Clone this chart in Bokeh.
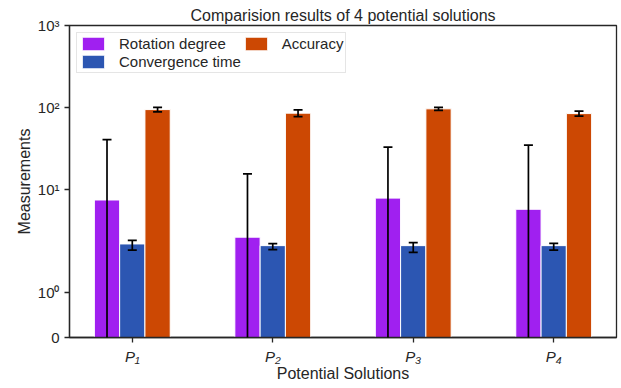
import numpy as np
from bokeh.plotting import figure
from bokeh.models import ColumnDataSource, Whisker, TeeHead, FixedTicker, Range1d, Legend, LegendItem
from bokeh.embed import file_html
from bokeh.resources import INLINE

# ---- data ----
solutions = ["P\u2081", "P\u2082", "P\u2083", "P\u2084"]
rotation = [7.4, 2.6, 7.8, 5.7]
rotation_err = [33.0, 12.8, 25.0, 29.0]
convergence = [2.15, 2.05, 2.05, 2.05]
convergence_err = [0.23, 0.12, 0.18, 0.13]
accuracy = [94.0, 85.0, 96.0, 84.0]
accuracy_err = [6.0, 8.0, 4.0, 6.0]
series_names = ["Rotation degree", "Convergence time", "Accuracy"]
y_tick_values = [0, 1, 10, 100, 1000]
y_tick_labels = ["0", "10\u2070", "10\u00b9", "10\u00b2", "10\u00b3"]

# symlog transform (matplotlib default linthresh=2, linscale=1)
LINTHRESH = 2.0
LINSCALE_ADJ = 1.0 / (1.0 - 1.0 / 10.0)

def symlog(v):
    a = np.asarray(v, dtype=float)
    aa = np.abs(a)
    with np.errstate(divide="ignore", invalid="ignore"):
        out = np.sign(a) * LINTHRESH * (LINSCALE_ADJ + np.log10(aa / LINTHRESH))
    inside = aa <= LINTHRESH
    out[inside] = a[inside] * LINSCALE_ADJ
    return out

FONT = "Liberation Sans"
TXT = "#262626"
colors = ["#A020F0", "#2C56B2", "#CC4803"]
width = 0.18
offsets = [-0.18, 0.0, 0.18]

p = figure(width=621, height=388, output_backend="svg", toolbar_location=None,
           title="Comparision results of 4 potential solutions",
           x_range=Range1d(-0.447, 3.447), y_range=Range1d(0, float(symlog([1000])[0])),
           min_border_left=69, min_border_right=5, min_border_top=25, min_border_bottom=51)
p.title.align = "center"
p.title.text_font = FONT
p.title.text_font_size = "16px"
p.title.text_font_style = "normal"
p.title.text_color = TXT
p.title.standoff = 3
p.xgrid.visible = False
p.ygrid.visible = False
p.outline_line_color = TXT
p.outline_line_width = 1.3
p.background_fill_color = "white"
p.border_fill_color = "white"

x = np.arange(len(solutions), dtype=float)
renderers = []
for vals, errs, col, off in zip([rotation, convergence, accuracy],
                                [rotation_err, convergence_err, accuracy_err],
                                colors, offsets):
    v = np.array(vals, dtype=float)
    e = np.array(errs, dtype=float)
    src = ColumnDataSource(dict(x=x + off, top=symlog(v),
                                upper=symlog(v + e), lower=symlog(v - e)))
    r = p.vbar(x="x", top="top", bottom=0, width=width, source=src,
               fill_color=col, line_color="white", line_width=1)
    renderers.append(r)
    wh = Whisker(base="x", upper="upper", lower="lower", source=src, level="overlay",
                 line_color="black", line_width=1.7,
                 upper_head=TeeHead(size=9, line_color="black", line_width=1.7),
                 lower_head=TeeHead(size=9, line_color="black", line_width=1.7))
    p.add_layout(wh)

# axes
p.xaxis.ticker = FixedTicker(ticks=list(x))
p.xaxis.major_label_overrides = {float(i): s for i, s in zip(x, solutions)}
p.xaxis.axis_label = "Potential Solutions"
p.yaxis.ticker = FixedTicker(ticks=list(symlog(y_tick_values)))
p.yaxis.major_label_overrides = {float(t): s for t, s in zip(symlog(y_tick_values), y_tick_labels)}
p.yaxis.axis_label = "Measurements"
for ax in (p.xaxis[0], p.yaxis[0]):
    ax.axis_line_color = TXT
    ax.axis_line_width = 1.3
    ax.major_tick_line_color = TXT
    ax.major_tick_line_width = 1.3
    ax.major_tick_in = 0
    ax.major_tick_out = 5
    ax.minor_tick_line_color = None
    ax.major_label_text_font = FONT
    ax.major_label_text_font_size = "15px"
    ax.major_label_text_color = TXT
    ax.axis_label_text_font = FONT
    ax.axis_label_text_font_size = "16px"
    ax.axis_label_text_font_style = "normal"
    ax.axis_label_text_color = TXT
    ax.axis_label_standoff = 2
p.xaxis.major_label_text_font_style = "italic"
p.xaxis.axis_label_standoff = -3

legend = Legend(items=[LegendItem(label=n, renderers=[r]) for n, r in zip(series_names, renderers)],
                location="top_left", nrows=2, orientation="vertical")
legend.label_text_font = FONT
legend.label_text_font_size = "15px"
legend.label_text_color = TXT
legend.glyph_width = 28
legend.glyph_height = 17
legend.label_standoff = 12
legend.spacing = 1
legend.padding = 2
legend.margin = 7
legend.border_line_color = "#cccccc"
legend.border_line_width = 1
legend.background_fill_alpha = 1.0
legend.label_height = 17
p.add_layout(legend)

open("out.html", "w").write(file_html(p, INLINE))
